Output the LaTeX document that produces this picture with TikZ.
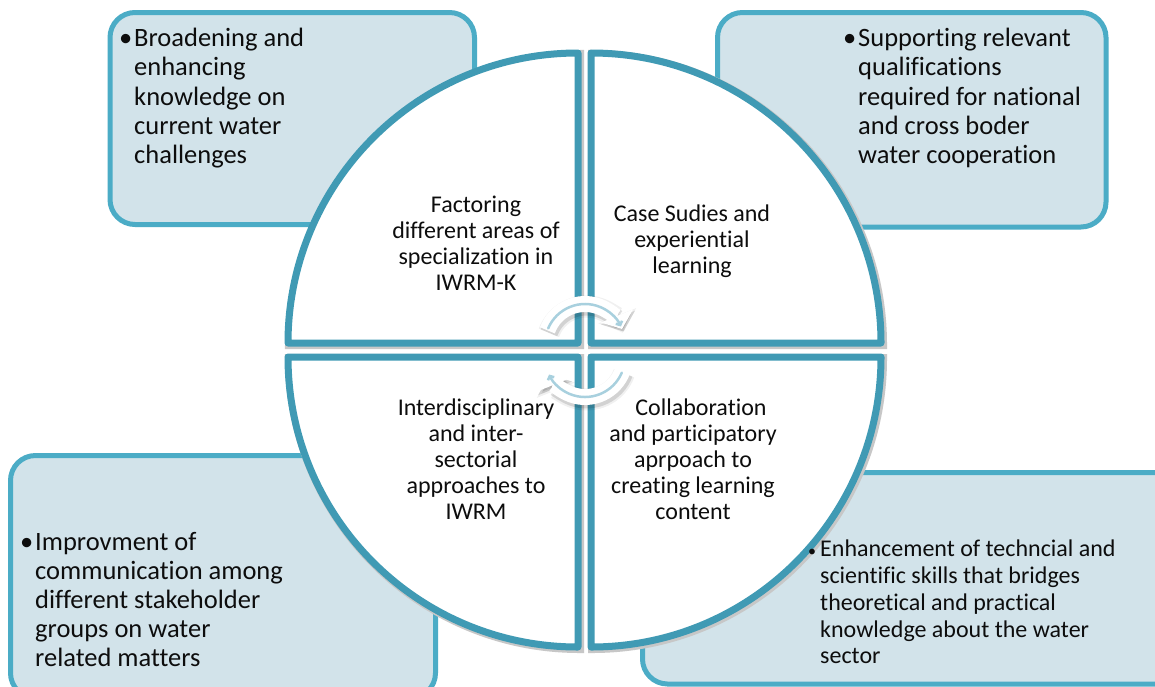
\documentclass[tikz,border=0pt]{standalone}
\usepackage{fontspec}
\setmainfont{Carlito}[Ligatures={NoCommon}]
\usetikzlibrary{arrows.meta}
\definecolor{qcol}{HTML}{409AB4}
\definecolor{bcol}{HTML}{4BACC6}
\definecolor{bfill}{HTML}{D2E3EA}
\definecolor{acol}{HTML}{A8D0DE}
\definecolor{tcol}{HTML}{0D0D0D}
\begin{document}
\begin{tikzpicture}[x=1pt,y=-1pt,
  infobox/.style={draw=bcol, fill=bfill, line width=5pt, rounded corners=25pt},
  quad/.style={draw=qcol, fill=white, line width=7pt, line join=round,
    preaction={draw=black!22, fill=black!22, line width=9pt, transform canvas={shift={(1.5pt,-1.5pt)}}}},
  ctext/.style={inner sep=0pt, anchor=base, font=\fontsize{24}{26}\selectfont, text=tcol},
  btext/.style={inner sep=0pt, anchor=base west, font=\fontsize{26.5}{29.2}\selectfont, text=tcol},
  stext/.style={inner sep=0pt, anchor=base west, font=\fontsize{24}{26.8}\selectfont, text=tcol},
  arrowband/.style={white, line width=16pt, -{Triangle[length=14pt,width=34pt]}},
  arrowshadowa/.style={black, opacity=0.06, line width=22pt, -{Triangle[length=17pt,width=40pt]}},
  arrowshadowb/.style={black, opacity=0.12, line width=18pt, -{Triangle[length=15pt,width=36pt]}},
  arrowline/.style={acol, line width=2.5pt, line cap=round, -{Straight Barb[length=3pt,width=7pt]}}
]
\useasboundingbox (0,0) rectangle (1155,686);
\clip (0,0) rectangle (1155,686);
\fill[white] (0,0) rectangle (1155,686);

% outer boxes
\draw[infobox] (110,12.5) rectangle (474.5,224.5);
\draw[infobox] (717.5,12.5) rectangle (1106,227);
\draw[infobox] (10.5,455.5) rectangle (435.5,698);
\draw[infobox] (642.5,472.5) rectangle (1185,684);

% quadrants
\draw[quad] (578,343) -- (288,343) arc[start angle=180,end angle=270,radius=290] -- cycle;
\draw[quad] (591,343) -- (591,53) arc[start angle=270,end angle=360,radius=290] -- cycle;
\draw[quad] (578,357) -- (578,647) arc[start angle=90,end angle=180,radius=290] -- cycle;
\draw[quad] (591,357) -- (881,357) arc[start angle=0,end angle=90,radius=290] -- cycle;

% box texts
\node[btext] (tlbox) at (134,46.7) {\llap{•\hspace{2pt}}\parbox[t]{330pt}{\raggedright Broadening and\\enhancing\\knowledge on\\current water\\challenges}};
\node[btext] (trbox) at (858,46.7) {\llap{•\hspace{2pt}}\parbox[t]{330pt}{\raggedright Supporting relevant\\qualifications\\required for national\\and cross boder\\water cooperation}};
\node[btext] (blbox) at (35,550) {\llap{•\hspace{2pt}}\parbox[t]{390pt}{\raggedright Improvment of\\communication among\\different stakeholder\\groups on water\\related matters}};
\node[stext] (brbox) at (820,556.7) {\llap{{\fontsize{16}{16}\selectfont •}\hspace{4pt}}\parbox[t]{390pt}{\raggedright Enhancement of techncial and\\scientific skills that bridges\\theoretical and practical\\knowledge about the water\\sector}};

% quadrant texts
\node[ctext] (tlq) at (476,212) {\parbox[t]{250pt}{\centering Factoring\\different areas of\\specialization in\\IWRM-K}};
\node[ctext] (trq) at (692,221.5) {\parbox[t]{250pt}{\centering Case Sudies and\\experiential\\learning}};
\node[ctext] (blq) at (476,415) {\parbox[t]{250pt}{\centering Interdisciplinary\\and inter-\\sectorial\\approaches to\\IWRM}};
\node[ctext] (brq) at (693,415) {\parbox[t]{250pt}{\centering \hspace*{16pt}Collaboration\\and participatory\\aprpoach to\\creating learning\\content}};

% circular arrows in the centre
\begin{scope}[transform canvas={shift={(1.5pt,-2.5pt)}}]
\draw[arrowshadowa] ([shift={(200:40)}]585,344) arc[start angle=200,end angle=338,radius=40];
\draw[arrowshadowa] ([shift={(20:40)}]585,357) arc[start angle=20,end angle=158,radius=40];
\draw[arrowshadowb] ([shift={(200:40)}]585,344) arc[start angle=200,end angle=338,radius=40];
\draw[arrowshadowb] ([shift={(20:40)}]585,357) arc[start angle=20,end angle=158,radius=40];
\end{scope}
\draw[arrowband] ([shift={(200:40)}]585,344) arc[start angle=200,end angle=338,radius=40];
\draw[arrowband] ([shift={(20:40)}]585,357) arc[start angle=20,end angle=158,radius=40];
\draw[arrowline] ([shift={(203:40)}]585,344) arc[start angle=203,end angle=334,radius=40];
\draw[arrowline] ([shift={(23:40)}]585,357) arc[start angle=23,end angle=154,radius=40];
\end{tikzpicture}
\end{document}
